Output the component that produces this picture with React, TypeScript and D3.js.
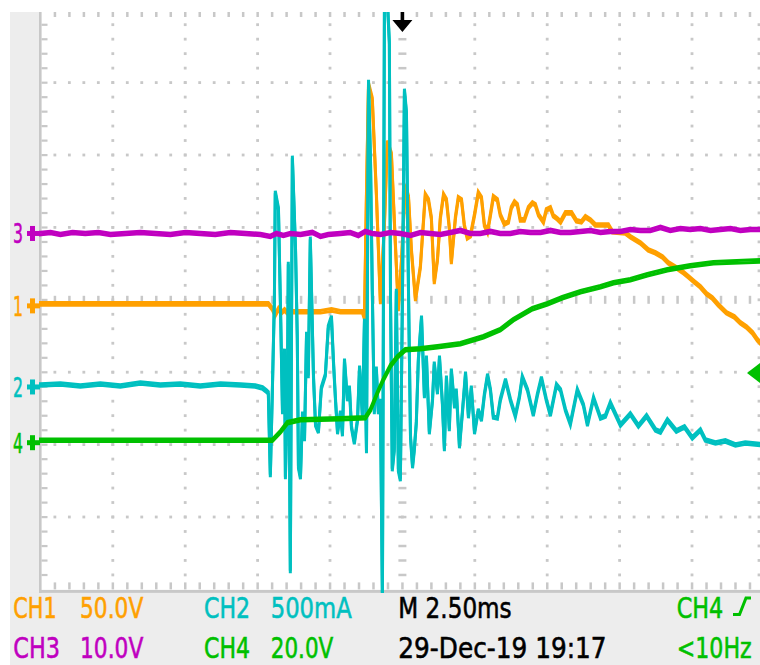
import React, { useLayoutEffect, useRef, useState } from 'react';
import * as d3 from 'd3';

// Graticule geometry (10 x 8 divisions)
const DIV = 72.4;
const LEFT = 40.4;
const TOP = 10.2;
const COLS = 10;
const ROWS = 8;
const MINOR = 5;

// Acquisition settings
const timePerDiv = 2.5; // ms
const timeLabel = 'M 2.50ms';
const dateLabel = '29-Dec-19 19:17';
const triggerSource = 'CH4';
const triggerFreq = '<10Hz';
const triggerTime = 0; // ms
const triggerLevel = 19.0; // V on CH4

const channelNames = ['CH1', 'CH2', 'CH3', 'CH4'];
const channelNumbers = ['1', '2', '3', '4'];
const channelColors = ['#ffa000', '#00c0c0', '#c000c0', '#00c000'];
const channelScaleLabels = ['50.0V', '500mA', '10.0V', '20.0V'];
const channelPerDiv = [50, 500, 10, 20];
// ground marker position, divisions above screen centre
const channelPosDiv = [-0.07, -1.19, 0.93, -1.96];

// CH1: volts vs ms
const ch1: [number, number][] = [
  [-12.5, 0.7], [-4.63, 0.7], [-4.49, -2.8], [-4.39, -6.9], [-4.28, -2.8], [-4.18, -5.5], [-4.07, -3.5],
  [-3.94, -6.2], [-3.8, -4.8], [-3.52, -4.8], [-2.83, -4.8], [-2.45, -3.5], [-2.14, -4.8], [-1.38, -4.8],
  [-1.31, -9.0], [-1.24, 78.0], [-1.17, 152.6], [-1.04, 142.3], [-0.9, 77.3], [-0.76, 1.4], [-0.62, 55.9],
  [-0.52, 112.6], [-0.38, 104.3], [-0.28, 58.7], [-0.14, -3.5], [-0.03, 31.1], [0.1, 82.2], [0.21, 74.6],
  [0.31, 38.0], [0.45, 3.5], [0.62, 26.2], [0.79, 76.0], [0.9, 72.5], [1.0, 60.1], [1.1, 15.2], [1.21, 31.1],
  [1.31, 60.1], [1.42, 76.0], [1.52, 72.5], [1.62, 53.2], [1.69, 29.0], [1.83, 60.1], [1.93, 73.9],
  [2.04, 72.5], [2.14, 54.6], [2.24, 46.3], [2.35, 47.7], [2.49, 62.2], [2.62, 77.3], [2.73, 73.9],
  [2.83, 55.2], [2.94, 50.4], [3.04, 62.2], [3.14, 74.6], [3.28, 72.5], [3.38, 62.2], [3.52, 55.9],
  [3.66, 57.3], [3.76, 67.0], [3.87, 71.1], [3.97, 69.1], [4.07, 58.7], [4.21, 58.7], [4.35, 67.0],
  [4.49, 70.4], [4.59, 69.1], [4.7, 62.2], [4.87, 57.3], [4.97, 65.6], [5.11, 67.0], [5.21, 61.5],
  [5.35, 59.4], [5.46, 57.3], [5.63, 63.5], [5.84, 63.5], [6.01, 58.0], [6.18, 57.3], [6.32, 60.8],
  [6.49, 58.7], [6.66, 55.2], [7.11, 55.2], [7.25, 50.4], [7.7, 49.7], [7.87, 47.0], [8.22, 42.8],
  [8.49, 38.0], [8.74, 35.9], [8.98, 33.1], [9.18, 29.0], [9.46, 25.6], [9.67, 22.8], [9.88, 19.3],
  [10.08, 15.9], [10.29, 12.4], [10.5, 7.6], [10.7, 4.8], [10.91, 0], [11.19, -5.5], [11.46, -8.3],
  [11.67, -12.4], [11.88, -15.2], [12.09, -19.3], [12.26, -24.2], [12.5, -29.0],
];

// CH2: milliamps vs ms
const ch2: [number, number][] = [
  [-12.5, 6.9], [-11.81, 13.8], [-11.12, 0], [-10.43, 13.8], [-9.74, 0], [-9.05, 20.7], [-8.36, 6.9],
  [-7.67, 13.8], [-6.98, 0], [-6.28, 13.8], [-5.59, 6.9], [-5.08, 0], [-4.83, -13.8], [-4.7, -34.5],
  [-4.63, -48.3], [-4.56, -621.5], [-4.49, -27.6], [-4.42, 593.9], [-4.39, 1339.8], [-4.28, 1222.4],
  [-4.21, 545.6], [-4.14, -186.5], [-4.07, 248.6], [-4.04, -635.4], [-3.97, -27.6], [-3.94, 849.4],
  [-3.87, -1284.5], [-3.83, 338.4], [-3.8, 1581.5], [-3.69, 939.2], [-3.63, 338.4], [-3.59, -559.4],
  [-3.52, -635.4], [-3.45, -186.5], [-3.38, -372.9], [-3.31, 366.0], [-3.25, 62.2], [-3.18, 1022.1],
  [-3.07, 62.2], [-3.0, -269.3], [-2.9, -317.7], [-2.8, -13.8], [-2.66, 76.0], [-2.56, 407.5],
  [-2.45, 476.5], [-2.38, 165.7], [-2.31, -96.7], [-2.24, -324.6], [-2.14, -179.6], [-2.07, -338.4],
  [-2.0, 179.6], [-1.9, -96.7], [-1.83, -6.9], [-1.76, -283.1], [-1.66, -393.6], [-1.55, -234.8],
  [-1.48, 131.2], [-1.38, -214.1], [-1.31, 455.8], [-1.24, -455.8], [-1.17, 2106.3], [-1.1, 1540.0],
  [-1.04, 663.0], [-0.97, -186.5], [-0.9, 124.3], [-0.83, -186.5], [-0.76, -96.7], [-0.69, -1477.9],
  [-0.62, 2666], [-0.52, 2666], [-0.45, 2368.8], [-0.41, 593.9], [-0.35, -580.1], [-0.28, -442.0],
  [-0.21, 663.0], [-0.14, -580.1], [-0.07, -649.2], [0, 593.9], [0.07, 2044.2], [0.14, 1885.3],
  [0.21, 663.0], [0.28, -352.2], [0.35, -559.4], [0.41, -442.0], [0.48, -255.5], [0.55, 179.6],
  [0.66, 476.5], [0.76, -76.0], [0.83, 200.3], [0.93, -324.6], [1.04, -96.7], [1.1, 158.8],
  [1.21, -48.3], [1.28, 200.3], [1.38, -117.4], [1.45, -442.0], [1.52, 62.2], [1.62, -303.9],
  [1.69, 110.5], [1.8, -145.0], [1.86, -27.6], [1.97, -421.3], [2.07, -186.5], [2.18, 89.8],
  [2.28, -214.1], [2.38, -6.9], [2.49, -324.6], [2.62, -165.7], [2.73, -234.8], [2.83, -62.2],
  [2.94, 76.0], [3.04, -27.6], [3.14, -214.1], [3.28, -221.0], [3.38, -96.7], [3.56, 41.4],
  [3.73, -96.7], [3.9, -207.2], [4.04, -76.0], [4.14, 62.2], [4.32, -27.6], [4.52, -200.3],
  [4.66, -62.2], [4.8, 55.2], [4.97, -96.7], [5.11, -200.3], [5.32, 6.9], [5.46, -27.6],
  [5.63, -165.7], [5.8, -262.4], [6.04, -27.6], [6.25, -131.2], [6.39, -269.3], [6.6, -82.9],
  [6.84, -221.0], [7.01, -207.2], [7.18, -117.4], [7.53, -269.3], [7.87, -193.4], [8.15, -276.2],
  [8.43, -207.2], [8.74, -303.9], [8.91, -317.7], [9.15, -234.8], [9.46, -310.8], [9.74, -283.1],
  [10.01, -359.1], [10.29, -303.9], [10.46, -372.9], [10.81, -393.6], [11.15, -379.8], [11.5, -407.5],
  [11.84, -393.6], [12.5, -407.5],
];

// CH3: volts vs ms
const ch3: [number, number][] = [
  [-12.5, -0.14], [-12.15, 0], [-11.81, -0.28], [-11.39, 0], [-10.95, -0.14], [-10.5, 0], [-10.08, -0.28],
  [-9.56, -0.14], [-9.05, 0], [-8.53, -0.14], [-8.01, -0.28], [-7.49, 0], [-6.98, -0.14], [-6.46, -0.28],
  [-5.94, 0], [-5.42, -0.14], [-4.9, -0.28], [-4.56, -0.55], [-4.35, -0.14], [-4.11, -0.41], [-3.87, -0.14],
  [-3.52, -0.28], [-3.11, 0], [-2.83, -0.55], [-2.56, -0.28], [-2.14, -0.14], [-1.8, 0], [-1.52, -0.41],
  [-1.28, 0.14], [-1.04, -0.14], [-0.76, -0.28], [-0.41, 0], [-0.07, -0.14], [0.28, -0.41], [0.62, 0],
  [0.97, -0.14], [1.31, -0.28], [1.66, 0], [2.0, 0.28], [2.35, -0.14], [2.69, -0.14], [3.04, 0.14],
  [3.38, -0.14], [3.73, -0.14], [4.07, 0.14], [4.42, 0], [4.77, 0], [5.11, 0.28], [5.46, 0], [5.8, 0],
  [6.15, 0.14], [6.49, 0.28], [6.84, 0], [7.18, 0.14], [7.53, 0.14], [7.87, 0.41], [8.22, 0.28],
  [8.56, 0.28], [8.91, 0.69], [9.25, 0.28], [9.6, 0.55], [9.94, 0.41], [10.29, 0.55], [10.64, 0.28],
  [10.98, 0.41], [11.33, 0.55], [11.67, 0.28], [12.02, 0.41], [12.5, 0.41],
];

// CH4: volts vs ms
const ch4: [number, number][] = [
  [-12.5, 0.41], [-4.49, 0.41], [-4.21, 2.76], [-3.97, 5.25], [-3.52, 6.08], [-2.14, 6.35], [-1.28, 6.63],
  [-1.1, 8.84], [-0.86, 13.54], [-0.66, 17.13], [-0.41, 20.99], [-0.17, 23.48], [0.1, 25.41], [0.62, 25.69],
  [1.21, 26.24], [2.0, 27.07], [2.8, 29.01], [3.38, 30.94], [3.83, 33.7], [4.49, 36.74], [5.01, 38.12],
  [5.52, 39.78], [6.15, 41.44], [6.84, 42.82], [7.29, 43.92], [7.87, 44.75], [8.46, 46.13], [9.15, 47.51],
  [9.94, 48.62], [10.74, 49.45], [12.5, 50.0],
];

const traces = [ch1, ch2, ch3, ch4];

const W = 760;
const H = 665;
const GRID = '#c8c8c8';
const PANEL = '#ededed';
const FONT = '"DejaVu Sans", "Liberation Sans", sans-serif';

// Readout text squeezed horizontally to a target width, like the scope's narrow font
function FitText(props: { x: number; y: number; width: number; size: number; color: string; text: string }) {
  const { x, y, width, size, color, text } = props;
  const ref = useRef<SVGTextElement>(null);
  const [sx, setSx] = useState(0.75);
  useLayoutEffect(() => {
    if (ref.current) {
      const w = ref.current.getComputedTextLength();
      if (w > 0) setSx(width / w);
    }
  }, [width, text, size]);
  return (
    <text
      ref={ref}
      transform={`translate(${x},${y}) scale(${sx},1)`}
      fill={color}
      stroke={color}
      strokeWidth={0.6}
      fontFamily={FONT}
      fontSize={size}
    >
      {text}
    </text>
  );
}

export default function App() {
  const x = d3
    .scaleLinear()
    .domain([-timePerDiv * COLS / 2, timePerDiv * COLS / 2])
    .range([LEFT, LEFT + COLS * DIV]);
  const centerY = TOP + (ROWS / 2) * DIV;
  const yScales = channelPerDiv.map((p, i) => {
    const g = centerY - channelPosDiv[i] * DIV;
    return d3.scaleLinear().domain([0, p]).range([g, g - DIV]);
  });

  const step = DIV / MINOR;
  const minorX = d3.range(1, COLS * MINOR).map((i) => LEFT + i * step).filter((v) => v < W);
  const minorY = d3.range(1, ROWS * MINOR).map((j) => TOP + j * step);
  const centerX = LEFT + (COLS / 2) * DIV;
  const bottomY = TOP + ROWS * DIV;

  const dots: JSX.Element[] = [];
  // dotted major rows
  d3.range(1, ROWS).forEach((k) => {
    const yy = TOP + k * DIV;
    minorX.forEach((xx, i) => {
      if (k === ROWS / 2) {
        dots.push(<rect key={`r${k}-${i}`} x={xx - 1.2} y={yy - 4} width={2.5} height={8} fill={GRID} />);
      } else {
        dots.push(<rect key={`r${k}-${i}`} x={xx - 1.4} y={yy - 1.4} width={2.8} height={2.8} fill={GRID} />);
      }
    });
  });
  // dotted major columns
  const colXs = d3.range(1, COLS).map((c) => LEFT + c * DIV);
  colXs.push(759);
  colXs.forEach((xx, c) => {
    minorY.forEach((yy, j) => {
      if (Math.abs(xx - centerX) < 1) {
        dots.push(<rect key={`c${c}-${j}`} x={xx - 4} y={yy - 1.2} width={8} height={2.5} fill={GRID} />);
      } else {
        dots.push(<rect key={`c${c}-${j}`} x={xx - 1.4} y={yy - 1.4} width={2.8} height={2.8} fill={GRID} />);
      }
    });
  });
  // edge ticks
  minorX.forEach((xx, i) => {
    dots.push(<rect key={`t${i}`} x={xx - 1.2} y={12} width={2.5} height={5} fill={GRID} />);
    dots.push(<rect key={`b${i}`} x={xx - 1.2} y={bottomY - 7} width={2.5} height={7} fill={GRID} />);
  });
  minorY.forEach((yy, j) => {
    dots.push(<rect key={`l${j}`} x={41.5} y={yy - 1} width={6} height={2.2} fill={GRID} />);
  });

  const lines = traces.map((data, i) =>
    d3
      .line<[number, number]>()
      .x((d) => x(d[0]))
      .y((d) => yScales[i](d[1]))(data) as string
  );

  const trigX = x(triggerTime);
  const trigY = yScales[3](triggerLevel);

  const row1 = 618;
  const row2 = 658;

  return (
    <svg
      width={W}
      height={H}
      style={{ position: 'absolute', left: 0, top: 0, background: '#fff' }}
    >
      <defs>
        <clipPath id="screen">
          <rect x={39} y={12} width={W - 39} height={bottomY + 3.5 - 12} />
        </clipPath>
      </defs>
      {/* side and bottom panels */}
      <rect x={10} y={12} width={29} height={H - 12} fill={PANEL} />
      <rect x={10} y={bottomY + 3.5} width={W - 10} height={H - bottomY - 3.5} fill={PANEL} />
      {/* graticule */}
      <g>{dots}</g>
      <rect x={39} y={12} width={2.6} height={bottomY + 3.5 - 12} fill={GRID} />
      <rect x={39} y={bottomY + 0.5} width={W - 39} height={3} fill={GRID} />

      {/* waveforms */}
      <g clipPath="url(#screen)">
        {lines.map((d, i) => (
          <g key={i} stroke={channelColors[i]} strokeWidth={3} fill="none" strokeLinejoin="miter" strokeLinecap="square">
            <path d={d} transform="translate(0,-1.3)" />
            <path d={d} transform="translate(0,1.3)" />
          </g>
        ))}
      </g>

      {/* channel ground markers */}
      {[2, 0, 1, 3].map((i) => {
        const gy = yScales[i](0) + 1;
        return (
          <g key={`m${i}`} fill={channelColors[i]}>
            <FitText x={13} y={gy + 10} width={10} size={27} color={channelColors[i]} text={channelNumbers[i]} />
            <rect x={27} y={gy - 2.5} width={13} height={5} />
            <rect x={30} y={gy - 7.5} width={5} height={15} />
          </g>
        );
      })}

      {/* trigger position marker */}
      <path
        d={`M${trigX - 1.8},12 L${trigX + 1.8},12 L${trigX + 1.8},20 L${trigX + 10},20 L${trigX},32 L${trigX - 10},20 L${trigX - 1.8},20 Z`}
        fill="#000"
      />
      {/* trigger level marker */}
      <path d={`M747,${trigY} L760,${trigY - 10} L760,${trigY + 10} Z`} fill={channelColors[3]} />

      {/* readouts */}
      <FitText x={13.3} y={row1} width={43.4} size={29} color={channelColors[0]} text={channelNames[0]} />
      <FitText x={80} y={row1} width={63.3} size={29} color={channelColors[0]} text={channelScaleLabels[0]} />
      <FitText x={204} y={row1} width={46} size={29} color={channelColors[1]} text={channelNames[1]} />
      <FitText x={270.7} y={row1} width={81} size={29} color={channelColors[1]} text={channelScaleLabels[1]} />
      <FitText x={13.3} y={row2} width={46.7} size={29} color={channelColors[2]} text={channelNames[2]} />
      <FitText x={80} y={row2} width={63.3} size={29} color={channelColors[2]} text={channelScaleLabels[2]} />
      <FitText x={204} y={row2} width={46} size={29} color={channelColors[3]} text={channelNames[3]} />
      <FitText x={270.7} y={row2} width={62.6} size={29} color={channelColors[3]} text={channelScaleLabels[3]} />
      <FitText x={398.3} y={row1} width={113.4} size={29} color="#000" text={timeLabel} />
      <FitText x={398.3} y={row2} width={208.4} size={29} color="#000" text={dateLabel} />
      <FitText x={676.7} y={row1} width={46.6} size={29} color={channelColors[3]} text={triggerSource} />
      <path
        d="M733,614.5 L739.5,614.5 L746,598 L751,598"
        stroke={channelColors[3]}
        strokeWidth={3}
        fill="none"
      />
      <FitText x={676.7} y={row2} width={75} size={29} color={channelColors[3]} text={triggerFreq} />
    </svg>
  );
}
